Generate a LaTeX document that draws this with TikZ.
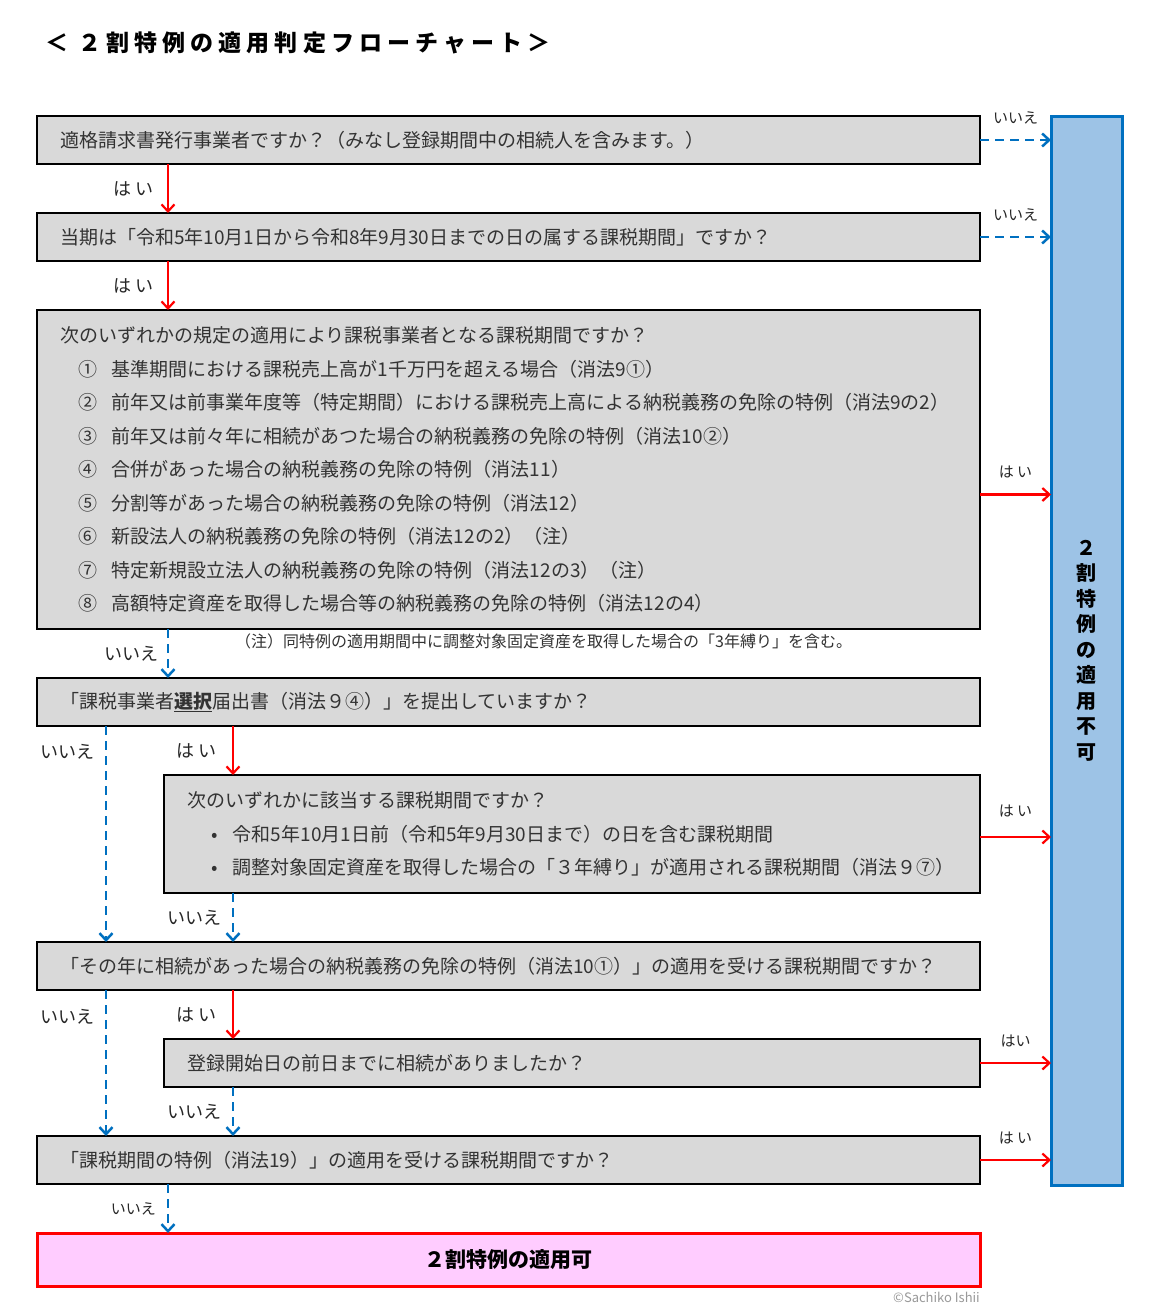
\documentclass[tikz,border=0pt]{standalone}
\usepackage{fontspec}
\setmainfont{Noto Sans CJK JP}
\usetikzlibrary{arrows.meta,positioning}
\definecolor{ngblue}{HTML}{0070C0}
\definecolor{ngfill}{HTML}{9DC3E6}
\definecolor{okpink}{HTML}{FFCCFF}
\tikzset{
  qbox/.style={draw=black,line width=1.5pt,outer sep=0pt,fill=black!15,text=black!80,align=left,inner xsep=23pt,inner ysep=0pt,minimum height=48pt,text width=897pt,font=\fontsize{19}{33.5}\selectfont},
  subq/.style={qbox,text width=770pt},
  ngbox/.style={draw=ngblue,line width=3pt,outer sep=0pt,fill=ngfill,minimum width=71pt,align=center,font=\bfseries\fontsize{20}{25.5}\selectfont},
  okbox/.style={draw=red,line width=3pt,outer sep=0pt,fill=okpink,minimum width=943pt,minimum height=53pt,font=\bfseries\fontsize{21}{24}\selectfont},
  yesarr/.style={draw=red,line width=2.2pt,-{Straight Barb[length=7pt,width=13pt]}},
  noarr/.style={draw=ngblue,line width=2.5pt,dash pattern=on 9pt off 6pt,-{Straight Barb[length=7pt,width=13pt]}},
  lbl/.style={inner sep=0pt,text=black!85,font=\fontsize{18}{20}\selectfont},
  slbl/.style={lbl,font=\fontsize{15}{17}\selectfont},
  note/.style={inner sep=0pt,text=black!80,font=\fontsize{16}{18}\selectfont},
  cpy/.style={inner sep=0pt,text=black!40,font=\fontsize{13}{15}\selectfont},
  ttl/.style={inner sep=0pt,font=\bfseries\fontsize{23}{26}\selectfont\addfontfeatures{LetterSpace=22}}
}
\newcommand{\jitem}[2]{\hspace*{18pt}#1\hspace{15pt}#2}
\newcommand{\jbul}{\hspace*{24pt}\makebox[22pt][l]{•}}

\begin{document}
\begin{tikzpicture}[x=1pt,y=-1pt,node distance=49pt]
\path[fill=white,use as bounding box] (0,0) rectangle (1156,1314);
\node[ttl,anchor=west] (ttl) at (45,43) {＜ ２割特例の適用判定フローチャート＞};
% questions
\node[qbox] (q1) at (508.5,140) {適格請求書発行事業者ですか？（みなし登録期間中の相続人を含みます。）};
\node[qbox,below=of q1] (q2) {当期は「令和5年10月1日から令和8年9月30日までの日の属する課税期間」ですか？};
\node[qbox,below=of q2,minimum height=319pt] (q3) {次のいずれかの規定の適用により課税事業者となる課税期間ですか？\\
\jitem{①}{基準期間における課税売上高が1千万円を超える場合（消法9①）}\\
\jitem{②}{前年又は前事業年度等（特定期間）における課税売上高による納税義務の免除の特例（消法9の2）}\\
\jitem{③}{前年又は前々年に相続があつた場合の納税義務の免除の特例（消法10②）}\\
\jitem{④}{合併があった場合の納税義務の免除の特例（消法11）}\\
\jitem{⑤}{分割等があった場合の納税義務の免除の特例（消法12）}\\
\jitem{⑥}{新設法人の納税義務の免除の特例（消法12の2）（注）}\\
\jitem{⑦}{特定新規設立法人の納税義務の免除の特例（消法12の3）（注）}\\
\jitem{⑧}{高額特定資産を取得した場合等の納税義務の免除の特例（消法12の4）}};
\node[note,below=5pt of q3.south west,anchor=north west,xshift=198pt] (nt) {（注）同特例の適用期間中に調整対象固定資産を取得した場合の「3年縛り」を含む。};
\node[qbox,below=of q3] (q4) {「課税事業者\underline{\textbf{選択}}届出書（消法９④）」を提出していますか？};
\node[subq,below=of q4.south east,anchor=north east,minimum height=118pt] (q5) {次のいずれかに該当する課税期間ですか？\\
\jbul 令和5年10月1日前（令和5年9月30日まで）の日を含む課税期間\\
\jbul 調整対象固定資産を取得した場合の「３年縛り」が適用される課税期間（消法９⑦）};
\node[qbox,below=of q5.south east,anchor=north east] (q6) {「その年に相続があった場合の納税義務の免除の特例（消法10①）」の適用を受ける課税期間ですか？};
\node[subq,below=of q6.south east,anchor=north east] (q7) {登録開始日の前日までに相続がありましたか？};
\node[qbox,below=of q7.south east,anchor=north east] (q8) {「課税期間の特例（消法19）」の適用を受ける課税期間ですか？};
% results
\node[okbox,below=of q8] (ok) {２割特例の適用可};
\node[cpy,below=6pt of ok.south east,anchor=north east] (cp) {©Sachiko Ishii};
\node[ngbox,right=71pt of q1.north east,anchor=north west,minimum height=1069pt] (ng) {２\\割\\特\\例\\の\\適\\用\\不\\可};
% arrow columns
\coordinate (c0) at (106,0);
\coordinate (c1) at (168,0);
\coordinate (c2) at (233,0);
\draw[yesarr] (q1.south -| c1) -- node[lbl,left=13pt]{は い} (q2.north -| c1);
\draw[yesarr] (q2.south -| c1) -- node[lbl,left=13pt]{は い} (q3.north -| c1);
\draw[noarr] (q3.south -| c1) -- node[lbl,left=8pt]{いいえ} (q4.north -| c1);
\draw[yesarr] (q4.south -| c2) -- node[lbl,left=15pt]{は い} (q5.north -| c2);
\draw[noarr] (q4.south -| c0) -- node[lbl,left=10pt,pos=.12]{いいえ} (q6.north -| c0);
\draw[noarr] (q5.south -| c2) -- node[lbl,left=10pt]{いいえ} (q6.north -| c2);
\draw[yesarr] (q6.south -| c2) -- node[lbl,left=15pt]{は い} (q7.north -| c2);
\draw[noarr] (q6.south -| c0) -- node[lbl,left=10pt,pos=.18]{いいえ} (q8.north -| c0);
\draw[noarr] (q7.south -| c2) -- node[lbl,left=10pt]{いいえ} (q8.north -| c2);
\draw[noarr] (q8.south -| c1) -- node[slbl,left=11pt]{いいえ} (ok.north -| c1);
\draw[noarr] (q1.east) -- node[slbl,above=15pt]{いいえ} (q1.east -| ng.west);
\draw[noarr] (q2.east) -- node[slbl,above=15pt]{いいえ} (q2.east -| ng.west);
\draw[yesarr] ([yshift=-25pt]q3.east) -- node[slbl,above=15pt]{は い} ([yshift=-25pt]q3.east -| ng.west);
\draw[yesarr] ([yshift=-3pt]q5.east) -- node[slbl,above=19pt]{は い} ([yshift=-3pt]q5.east -| ng.west);
\draw[yesarr] (q7.east) -- node[slbl,above=15pt]{はい} (q7.east -| ng.west);
\draw[yesarr] (q8.east) -- node[slbl,above=15pt]{は い} (q8.east -| ng.west);
\end{tikzpicture}
\end{document}
